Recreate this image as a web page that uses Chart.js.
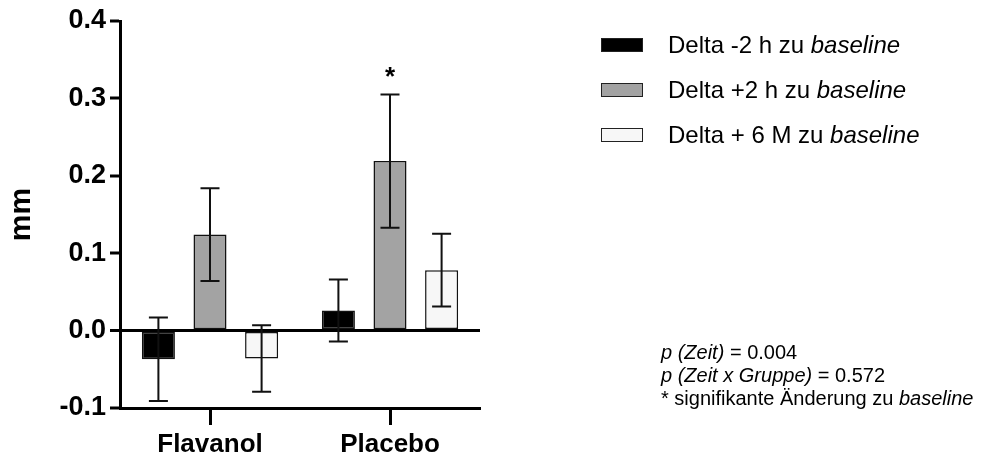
<!DOCTYPE html>
<html>
<head>
<meta charset="utf-8">
<script src="https://cdn.jsdelivr.net/npm/chart.js@4.4.1/dist/chart.umd.min.js"></script>
<style>
  body { margin: 0; background: #fff; font-family: "Liberation Sans", Arial, sans-serif; }
  #wrap { position: relative; width: 987px; height: 458px; }
  #legend { position: absolute; left: 601px; top: 22px; font-size: 24px; color: #000; }
  #legend .row { display: flex; align-items: center; height: 45px; }
  #legend .box { width: 40px; height: 12px; border: 1.5px solid #222; margin-right: 25px; }
  #notes { position: absolute; left: 661px; top: 341px; font-size: 20px; line-height: 23px; color: #000; }
</style>
</head>
<body>
<div id="wrap">
  <canvas id="chart"></canvas>
  <div id="legend"></div>
  <div id="notes">
    <div><i>p (Zeit)</i> = 0.004</div>
    <div><i>p (Zeit x Gruppe)</i> = 0.572</div>
    <div>* signifikante Änderung zu <i>baseline</i></div>
  </div>
</div>
<script>
// ── Data ─────────────────────────────────────────────────────
const groups     = ["Flavanol", "Placebo"];
const seriesName = ["Delta -2 h zu", "Delta +2 h zu", "Delta + 6 M zu"];
const colors     = ["#000000", "#a3a3a3", "#f7f7f7"];

const minus2h  = [-0.037, 0.026];
const plus2h   = [0.124, 0.219];
const plus6m   = [-0.036, 0.078];

const minus2hErr = [0.054, 0.040];
const plus2hErr  = [0.060, 0.086];
const plus6mErr  = [0.043, 0.047];

const yTicks = [-0.1, 0.0, 0.1, 0.2, 0.3, 0.4];

// significance star: [dataset, group]
const stars = [[1, 1]];

const values = [minus2h, plus2h, plus6m];
const errors = [minus2hErr, plus2hErr, plus6mErr];

// ── Error bars + star ────────────────────────────────────────
const errorBars = {
  id: "errorBars",
  afterDatasetsDraw(chart) {
    const { ctx, scales: { y } } = chart;
    ctx.save();
    ctx.strokeStyle = "#111";
    ctx.lineWidth = 2;
    chart.data.datasets.forEach((ds, di) => {
      const meta = chart.getDatasetMeta(di);
      meta.data.forEach((bar, i) => {
        const v = ds.data[i], e = errors[di][i];
        const top = y.getPixelForValue(v + e);
        const bot = y.getPixelForValue(v - e);
        const cap = 9.5;
        ctx.beginPath();
        ctx.moveTo(bar.x, top); ctx.lineTo(bar.x, bot);
        ctx.moveTo(bar.x - cap, top); ctx.lineTo(bar.x + cap, top);
        ctx.moveTo(bar.x - cap, bot); ctx.lineTo(bar.x + cap, bot);
        ctx.stroke();
      });
    });
    ctx.fillStyle = "#000";
    ctx.font = "bold 26px 'Liberation Sans', Arial";
    ctx.textAlign = "center";
    ctx.textBaseline = "alphabetic";
    stars.forEach(([di, i]) => {
      const bar = chart.getDatasetMeta(di).data[i];
      const top = y.getPixelForValue(values[di][i] + errors[di][i]);
      ctx.fillText("*", bar.x, top - 10);
    });
    ctx.restore();
  }
};

// ── Chart ────────────────────────────────────────────────────
const chart = new Chart(document.getElementById("chart"), {
  type: "bar",
  data: {
    labels: groups,
    datasets: values.map((v, i) => ({
      label: seriesName[i],
      data: v,
      backgroundColor: colors[i],
      borderColor: "#111",
      borderWidth: 1.5,
      borderSkipped: false,
      categoryPercentage: 0.86,
      barPercentage: 0.64
    }))
  },
  options: {
    responsive: true,
    maintainAspectRatio: false,
    animation: false,
    layout: { padding: { top: 21, right: 507, left: 0, bottom: 0 } },
    plugins: { legend: { display: false }, tooltip: { enabled: false } },
    scales: {
      x: {
        border: { color: "#000", width: 3 },
        grid: { offset: false, color: "transparent", tickColor: "#000", tickLength: 17, tickWidth: 3 },
        ticks: { color: "#000", padding: 4, font: { size: 26, weight: "bold", family: "'Liberation Sans', Arial" } },
        afterFit: s => { s.height = 50; }
      },
      y: {
        min: -0.1, max: 0.4,
        afterBuildTicks: s => { s.ticks = yTicks.map(v => ({ value: v })); },
        border: { color: "#000", width: 3 },
        grid: {
          color: c => c.tick && c.tick.value === 0 ? "#000" : "transparent",
          lineWidth: c => c.tick && c.tick.value === 0 ? 3 : 0,
          tickColor: "#000", tickLength: 10, tickWidth: 3
        },
        ticks: {
          color: "#000", padding: 4,
          font: { size: 27, weight: "bold", family: "'Liberation Sans', Arial" },
          callback: v => v.toFixed(1)
        },
        title: {
          display: true, text: "mm", color: "#000",
          padding: { top: 4, bottom: 0 },
          font: { size: 30, weight: "bold", family: "'Liberation Sans', Arial" }
        },
        afterFit: s => { s.width = 120; }
      }
    }
  },
  plugins: [errorBars]
});

// ── Legend (HTML, for italic "baseline") ──────────────────────
const legend = document.getElementById("legend");
chart.data.datasets.forEach(ds => {
  const row = document.createElement("div");
  row.className = "row";
  row.innerHTML = `<span class="box" style="background:${ds.backgroundColor}"></span>` +
                  `<span>${ds.label} <i>baseline</i></span>`;
  legend.appendChild(row);
});
</script>
</body>
</html>
